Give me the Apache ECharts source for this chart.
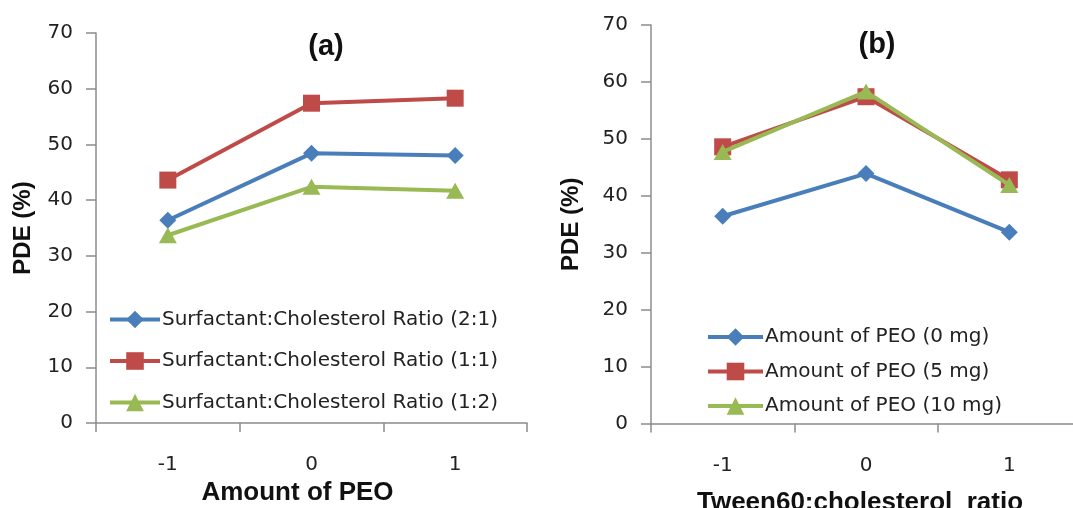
<!DOCTYPE html>
<html>
<head>
<meta charset="utf-8">
<script src="https://cdn.jsdelivr.net/npm/echarts@6/dist/echarts.min.js"></script>
<style>
  html, body { margin: 0; padding: 0; background: #fff; }
  #chart { width: 1073px; height: 508px; }
</style>
</head>
<body>
<div id="chart"></div>
<script>
// Category levels shared by both panels
const categories = ['-1', '0', '1'];
const yTicks = [0, 10, 20, 30, 40, 50, 60, 70];

// Panel (a): PDE vs amount of PEO
const seriesNamesA = [
  'Surfactant:Cholesterol Ratio (2:1)',
  'Surfactant:Cholesterol Ratio (1:1)',
  'Surfactant:Cholesterol Ratio (1:2)'
];
const ratio21 = [36.4, 48.4, 48.0];
const ratio11 = [43.6, 57.4, 58.3];
const ratio12 = [33.7, 42.4, 41.7];

// Panel (b): PDE vs Tween60:cholesterol ratio
const seriesNamesB = [
  'Amount of PEO (0 mg)',
  'Amount of PEO (5 mg)',
  'Amount of PEO (10 mg)'
];
const peo0 = [36.4, 43.9, 33.6];
const peo5 = [48.6, 57.4, 42.8];
const peo10 = [47.7, 58.3, 41.9];

const colors = ['#4a7ebb', '#be4b48', '#98b954'];
const symbols = ['diamond', 'rect', 'triangle'];
const symbolSizes = [[17, 17], [17, 17], [18, 16]];

const tickFont = 'DejaVu Sans';
const boldFont = 'Liberation Sans';
const axisGray = '#8c8c8c';

function makeXAxis(gridIndex, name, namePad, nameGap) {
  return {
    type: 'category',
    gridIndex: gridIndex,
    data: categories,
    boundaryGap: true,
    name: name,
    nameLocation: 'middle',
    nameGap: nameGap,
    nameTextStyle: {
      fontFamily: boldFont, fontWeight: 'bold', fontSize: 26, color: '#111',
      padding: namePad
    },
    axisLine: { lineStyle: { color: axisGray, width: 1.5 } },
    axisTick: { show: true, length: 9, inside: false, lineStyle: { color: axisGray, width: 1.5 } },
    axisLabel: { margin: 32, fontFamily: tickFont, fontSize: 20, color: '#222' },
    splitLine: { show: false }
  };
}

function makeYAxis(gridIndex, nameGap) {
  return {
    type: 'value',
    gridIndex: gridIndex,
    min: yTicks[0],
    max: yTicks[yTicks.length - 1],
    interval: yTicks[1] - yTicks[0],
    name: 'PDE (%)',
    nameLocation: 'middle',
    nameGap: nameGap,
    nameTextStyle: { fontFamily: boldFont, fontWeight: 'bold', fontSize: 24, color: '#111' },
    axisLine: { show: true, lineStyle: { color: axisGray, width: 1.5 } },
    axisTick: { show: true, length: 10, lineStyle: { color: axisGray, width: 1.5 } },
    axisLabel: { margin: 23, fontFamily: tickFont, fontSize: 20, color: '#222' },
    splitLine: { show: false }
  };
}

function makeSeries(names, valuesList, axisIndex) {
  return names.map((n, i) => ({
    name: n,
    type: 'line',
    xAxisIndex: axisIndex,
    yAxisIndex: axisIndex,
    data: valuesList[i],
    symbol: symbols[i],
    symbolSize: symbolSizes[i],
    showSymbol: true,
    color: colors[i],
    lineStyle: { width: 4, color: colors[i] },
    itemStyle: { color: colors[i] },
    z: 3 + i
  }));
}

function makeLegend(names, left, top, gap, lineLen) {
  return {
    data: names,
    orient: 'vertical',
    left: left,
    top: top,
    padding: 0,
    itemGap: gap,
    itemWidth: lineLen,
    itemHeight: 22,
    lineStyle: { width: 4 },
    textStyle: { fontFamily: tickFont, fontSize: 20, color: '#222', padding: [0, 0, 0, -3] },
    selectedMode: false
  };
}

const chart = echarts.init(document.getElementById('chart'), null, { renderer: 'canvas' });

chart.setOption({
  backgroundColor: '#ffffff',
  animation: false,
  title: [
    { text: '(a)', left: 321, top: 27, textAlign: 'center',
      textStyle: { fontFamily: boldFont, fontWeight: 'bold', fontSize: 29, color: '#111' } },
    { text: '(b)', left: 872, top: 25, textAlign: 'center',
      textStyle: { fontFamily: boldFont, fontWeight: 'bold', fontSize: 29, color: '#111' } }
  ],
  grid: [
    { left: 96, top: 33, width: 431, height: 390, outerBoundsMode: 'none' },
    { left: 651, top: 25, width: 430, height: 398.5, outerBoundsMode: 'none' }
  ],
  xAxis: [
    makeXAxis(0, 'Amount of PEO', [0, 28, 0, 0], 56),
    makeXAxis(1, 'Tween60:cholesterol  ratio', [0, 12, 0, 0], 66)
  ],
  yAxis: [
    makeYAxis(0, 61),
    makeYAxis(1, 68)
  ],
  legend: [
    makeLegend(seriesNamesA, 108, 309.5, 21.5, 50),
    makeLegend(seriesNamesB, 706, 327, 14.5, 55)
  ],
  series: [
    ...makeSeries(seriesNamesA, [ratio21, ratio11, ratio12], 0),
    ...makeSeries(seriesNamesB, [peo0, peo5, peo10], 1)
  ]
});
</script>
</body>
</html>
